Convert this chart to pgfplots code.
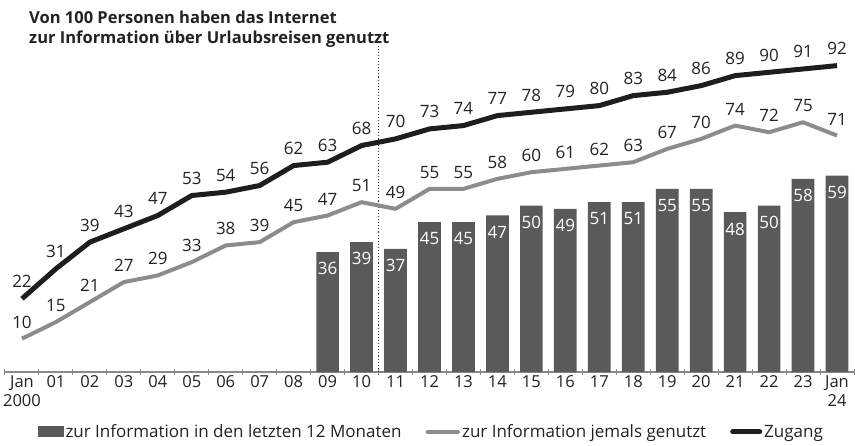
\documentclass[border=0pt]{standalone}
\usepackage{fontspec}
\setmainfont{Open Sans}
\usepackage{pgfplots}
\pgfplotsset{compat=1.18}
\definecolor{barc}{HTML}{5A5A5A}
\definecolor{linegray}{HTML}{8C8C8C}
\definecolor{lineblack}{HTML}{1E1E1E}
\definecolor{axisgray}{HTML}{8A8A8A}
\definecolor{txt}{HTML}{222222}
\newcommand{\lblfont}{\fontsize{17}{19.5}\selectfont}
\begin{document}
\begin{tikzpicture}
\path[use as bounding box] (-5pt,-73pt) rectangle (850pt,372pt);
\begin{axis}[
  scale only axis, width=849pt, height=333pt,
  xmin=-0.5, xmax=24.5, ymin=0, ymax=100,
  axis x line=bottom, axis y line=none,
  axis line style={axisgray, line width=1.2pt, -},
  xtick={0,...,24},
  xticklabels={Jan\\2000,01,02,03,04,05,06,07,08,09,10,11,12,13,14,15,16,17,18,19,20,21,22,23,Jan\\24},
  x tick label style={align=center, font=\fontsize{16.5}{19}\selectfont, text=txt},
  major tick length=0pt,
  minor xtick={-0.5,0.5,...,24.5},
  minor tick length=6pt,
  tick align=center,
  minor tick style={axisgray, line width=1pt},
  clip=false,
  /pgf/number format/assume math mode=true,
  legend style={draw=none, fill=none, at={(0.502,-0.18)}, anchor=center,
    legend columns=3, font=\lblfont, text=txt,
    /tikz/every even column/.append style={column sep=22pt}},
  legend cell align=left,
]
\draw[black!80, dotted, line width=1.1pt] (axis cs:10.5,0) -- (axis cs:10.5,98);
\addplot[ybar, bar width=22.7pt, fill=barc, draw=none,
  nodes near coords,
  every node near coord/.style={anchor=north, yshift=-7pt, text=white, font=\lblfont},
  legend image code/.code={\fill[barc] (0pt,-5.5pt) rectangle (26pt,5.5pt);}]
coordinates {(9,36) (10,39) (11,37) (12,45) (13,45) (14,47) (15,50) (16,49) (17,51) (18,51) (19,55) (20,55) (21,48) (22,50) (23,58) (24,59)};
\addlegendentry{zur Information in den letzten 12 Monaten}
\addplot[linegray, line width=4pt, line join=round,
  nodes near coords,
  every node near coord/.append style={anchor=south, yshift=5pt, text=txt, font=\lblfont},
  legend image code/.code={\draw[linegray, line width=4.5pt, line cap=round] (0pt,0pt) -- (30pt,0pt);}]
coordinates {(0,10) (1,15) (2,21) (3,27) (4,29) (5,33) (6,38) (7,39) (8,45) (9,47) (10,51) (11,49) (12,55) (13,55) (14,58) (15,60) (16,61) (17,62) (18,63) (19,67) (20,70) (21,74) (22,72) (23,75) (24,71)};
\addlegendentry{zur Information jemals genutzt}
\addplot[lineblack, line width=5pt, line join=round,
  nodes near coords,
  every node near coord/.append style={anchor=south, yshift=5pt, text=txt, font=\lblfont},
  legend image code/.code={\draw[lineblack, line width=5pt, line cap=round] (0pt,0pt) -- (27pt,0pt);}]
coordinates {(0,22) (1,31) (2,39) (3,43) (4,47) (5,53) (6,54) (7,56) (8,62) (9,63) (10,68) (11,70) (12,73) (13,74) (14,77) (15,78) (16,79) (17,80) (18,83) (19,84) (20,86) (21,89) (22,90) (23,91) (24,92)};
\addlegendentry{Zugang}
\end{axis}
\node[anchor=north west, inner sep=0pt, align=left, text=txt,
  font=\fontsize{16.5}{20}\selectfont\bfseries] at (24pt,361pt)
  {Von 100 Personen haben das Internet\\zur Information über Urlaubsreisen genutzt};
\end{tikzpicture}
\end{document}
